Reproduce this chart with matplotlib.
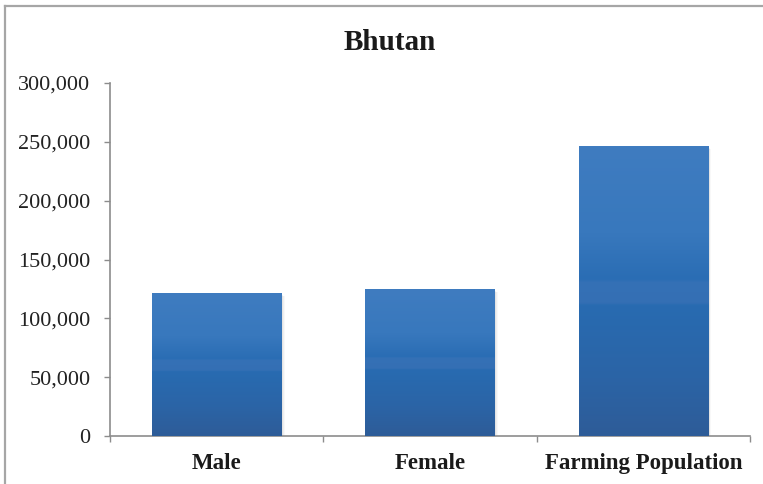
import numpy as np
import matplotlib
matplotlib.use("Agg")
import matplotlib.pyplot as plt
from matplotlib.patches import Rectangle
from matplotlib.lines import Line2D
from matplotlib.colors import to_rgb
from matplotlib.ticker import FuncFormatter, MultipleLocator
import matplotlib.transforms as mtransforms

# Data
categories = ["Male", "Female", "Farming Population"]
values = [121500, 124900, 246400]
title = "Bhutan"

plt.rcParams["font.family"] = ["Liberation Serif", "DejaVu Serif"]

fig = plt.figure(figsize=(7.63, 4.84), dpi=100)
fig.patch.set_facecolor("white")
ax = fig.add_axes([110 / 763, 48 / 484, 640 / 763, 353 / 484])

bar_width = 0.605
x = np.arange(len(categories))

# Vertical gradient used for each bar (top -> bottom)
stops = [
    (0.00, "#3f7cc0"),
    (0.30, "#3878bd"),
    (0.46, "#2a6db4"),
    (0.47, "#3571b6"),
    (0.54, "#346fb4"),
    (0.55, "#286bb1"),
    (0.80, "#2b64a6"),
    (1.00, "#2e5c98"),
]
n = 256
t = np.linspace(0, 1, n)
grad = np.zeros((n, 1, 3))
pos = [s[0] for s in stops]
cols = np.array([to_rgb(s[1]) for s in stops])
for c in range(3):
    grad[:, 0, c] = np.interp(t, pos, cols[:, c])

bars = ax.bar(x, values, width=bar_width, color="none", edgecolor="none", zorder=3)

for rect in bars:
    x0, w, h = rect.get_x(), rect.get_width(), rect.get_height()
    # soft drop shadow
    for k, a in zip([4, 3, 2, 1], [0.05, 0.07, 0.09, 0.12]):
        tr = mtransforms.offset_copy(ax.transData, fig=fig, x=k * 0.6, y=-k * 0.6, units="points")
        ax.add_patch(Rectangle((x0 - 0.004 * k, 0), w + 0.004 * k, h, transform=tr,
                               facecolor="#808080", edgecolor="none", alpha=a, zorder=2))
    ax.imshow(grad, extent=(x0, x0 + w, 0, h), aspect="auto", origin="upper",
              interpolation="bilinear", zorder=3)

ax.set_xlim(-0.5, len(categories) - 0.5)
ax.set_ylim(0, 300000)

ax.yaxis.set_major_locator(MultipleLocator(50000))
ax.yaxis.set_major_formatter(FuncFormatter(lambda v, p: f"{int(v):,}"))

# category ticks at the boundaries, labels at the centers
ax.set_xticks(np.arange(-0.5, len(categories), 1.0))
ax.set_xticklabels([])
ax.set_xticks(x, minor=True)
ax.set_xticklabels(categories, minor=True, fontsize=16.5, fontweight="bold", color="#1a1a1a")
ax.tick_params(axis="x", which="minor", length=0, pad=12)
ax.tick_params(axis="x", which="major", length=4.5, color="#8c8c8c", width=1)
ax.tick_params(axis="y", length=4.5, color="#8c8c8c", width=1, labelsize=16, labelcolor="#222222", pad=9.5)

for s in ["top", "right"]:
    ax.spines[s].set_visible(False)
for s in ["left", "bottom"]:
    ax.spines[s].set_color("#8c8c8c")
    ax.spines[s].set_linewidth(1.2)

fig.text(390 / 763, 1 - 43 / 484, title, ha="center", va="center",
         fontsize=21, fontweight="bold", color="#1a1a1a")

# chart area frame (left and top edges)
fig.add_artist(Line2D([5 / 763, 5 / 763], [0, 1 - 6 / 484], transform=fig.transFigure,
                      color="#a6a6a6", lw=1.6))
fig.add_artist(Line2D([5 / 763, 1], [1 - 6 / 484, 1 - 6 / 484], transform=fig.transFigure,
                      color="#a6a6a6", lw=1.6))

fig.savefig("out.png", dpi=100)
